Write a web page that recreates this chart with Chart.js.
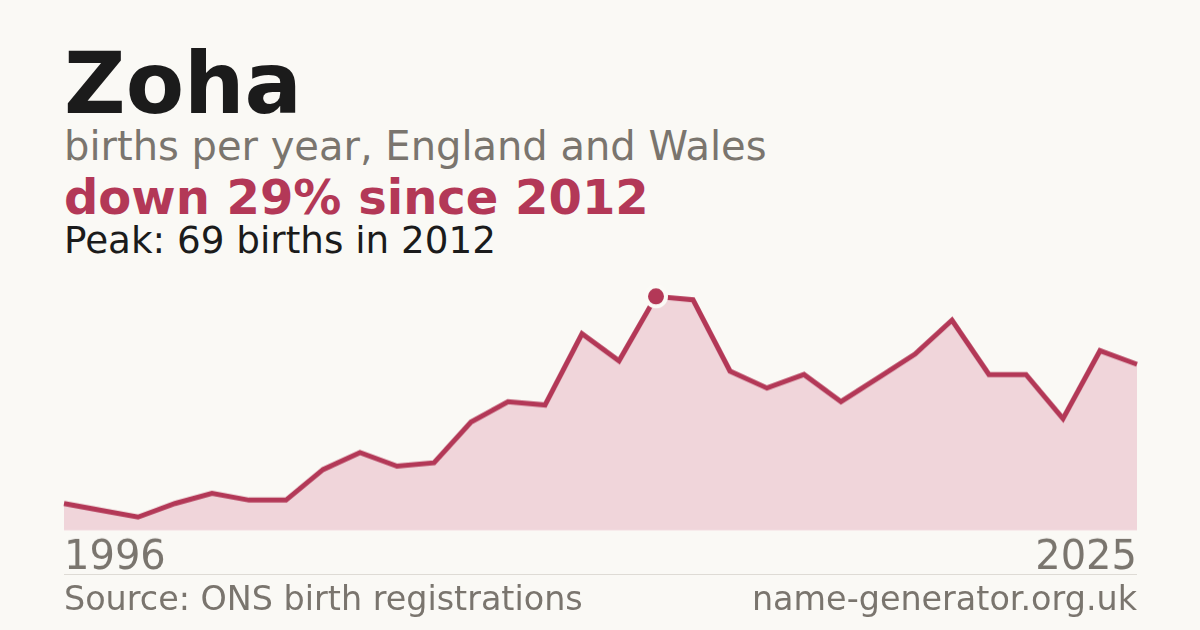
<!DOCTYPE html>
<html>
<head>
<meta charset="utf-8">
<script src="https://cdn.jsdelivr.net/npm/chart.js@4"></script>
<style>
  html, body { margin: 0; padding: 0; }
  body {
    width: 1200px; height: 630px; position: relative; overflow: hidden;
    background: #faf9f5; font-family: "DejaVu Sans", sans-serif;
  }
  .txt { position: absolute; left: 64px; line-height: 1; white-space: nowrap; }
  #title { top: 41px; font-size: 85px; font-weight: bold; color: #1b1b1b; }
  #sub { top: 125.5px; font-size: 40px; color: #7a756e; }
  #change { top: 173.4px; font-size: 48px; font-weight: bold; color: #b33857; }
  #peak { top: 221.5px; font-size: 37.3px; color: #1b1b1b; }
  #rule { position: absolute; left: 64px; width: 1073px; top: 574px; height: 1px; background: #dedbd5; }
  #source { top: 581.7px; font-size: 33.4px; color: #7a756e; }
  #site { top: 581.7px; left: auto; right: 63px; font-size: 33.4px; color: #7a756e; }
  /* 눈금 padding(4px)이 좌우에도 붙으므로 캔버스를 그만큼 넓힘 */
  #wrap { position: absolute; left: 60px; top: 270px; width: 1081px; height: 315.8px; }
</style>
</head>
<body>
<div class="txt" id="title">Zoha</div>
<div class="txt" id="sub">births per year, England and Wales</div>
<div class="txt" id="change">down 29% since 2012</div>
<div class="txt" id="peak">Peak: 69 births in 2012</div>
<div id="wrap"><canvas id="chart"></canvas></div>
<div id="rule"></div>
<div class="txt" id="source">Source: ONS birth registrations</div>
<div class="txt" id="site">name-generator.org.uk</div>

<script>
// 연도별 출생 수
const years = [1996, 1997, 1998, 1999, 2000, 2001, 2002, 2003, 2004, 2005,
               2006, 2007, 2008, 2009, 2010, 2011, 2012, 2013, 2014, 2015,
               2016, 2017, 2018, 2019, 2020, 2021, 2022, 2023, 2024, 2025];
const births = [8, 6, 4, 8, 11, 9, 9, 18, 23, 19,
                20, 32, 38, 37, 58, 50, 69, 68, 47, 42,
                46, 38, 45, 52, 62, 46, 46, 33, 53, 49];
const shownTicks = [1996, 2025];
const peakYear = 2012;

const RED = '#b33857';
const peakIdx = years.indexOf(peakYear);

const ctx = document.getElementById('chart').getContext('2d');
new Chart(ctx, {
    type: 'line',
    data: {
        labels: years,
        datasets: [{
            data: births,
            borderColor: RED,
            backgroundColor: '#f0d5da',
            borderWidth: 5,
            fill: 'origin',
            tension: 0,
            clip: false,
            // 피크 지점만 흰 테두리 점
            pointRadius: years.map((y, i) => i === peakIdx ? 10 : 0),
            pointBackgroundColor: RED,
            pointBorderColor: '#fbfaf6',
            pointBorderWidth: 4,
            pointHoverRadius: 0
        }]
    },
    options: {
        responsive: true,
        maintainAspectRatio: false,
        animation: false,
        layout: { autoPadding: false, padding: { top: 6, left: 0, right: 0, bottom: 0 } },
        plugins: {
            legend: { display: false },
            tooltip: { enabled: false }
        },
        scales: {
            x: {
                grid: { display: false, drawTicks: false },
                border: { display: false },
                ticks: {
                    autoSkip: false,
                    maxRotation: 0,
                    minRotation: 0,
                    align: 'inner',
                    padding: 4,
                    color: '#7a756e',
                    font: { family: 'DejaVu Sans', size: 40, lineHeight: 1.2 },
                    callback: function (value, index) {
                        const y = years[index];
                        return shownTicks.includes(y) ? String(y) : '';
                    }
                }
            },
            y: {
                display: false,
                min: 0,
                max: 75
            }
        }
    }
});
</script>
</body>
</html>
